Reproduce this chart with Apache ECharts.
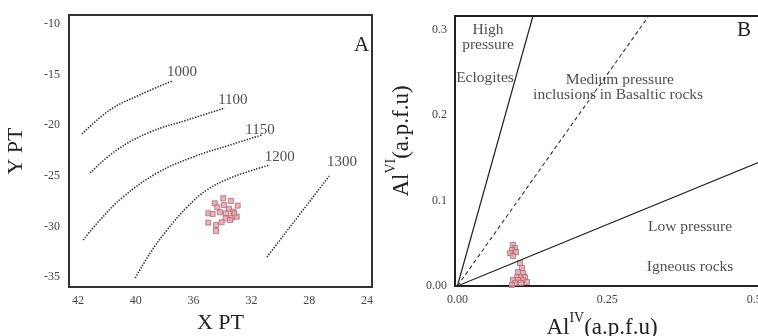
<!DOCTYPE html>
<html>
<head>
<meta charset="utf-8">
<script src="https://cdn.jsdelivr.net/npm/echarts@6/dist/echarts.min.js"></script>
<style>html,body{margin:0;padding:0;background:#fff}#c{width:758px;height:336px}</style>
</head>
<body>
<div id="c"></div>
<script>
// ---------- Panel A data (x in tick-index units: 0..5 -> labels) ----------
var xTickLabelsA = ['42', '40', '36', '32', '28', '24'];
var xTickPosA = [0, 1, 2, 3, 4, 5];
var yTicksA = [-35, -30, -25, -20, -15, -10];
var iso1000 = [[0.07, -20.87], [0.55, -18.5], [1.07, -17.0], [1.63, -15.63]];
var iso1100 = [[0.21, -24.72], [0.67, -22.45], [1.25, -20.67], [1.89, -19.49], [2.54, -18.30]];
var iso1150 = [[0.09, -31.34], [0.38, -29.37], [0.78, -27.09], [1.37, -24.72], [1.99, -23.14], [2.63, -21.96], [3.18, -20.97]];
var iso1200 = [[0.99, -35.10], [1.25, -32.63], [1.54, -30.36], [1.89, -28.08], [2.23, -26.40], [2.68, -25.12], [3.32, -23.93]];
var iso1300 = [[3.27, -33.02], [4.36, -24.92]];
var isoLabels = [[1.80, -14.74, '1000'], [2.68, -17.51, '1100'], [3.15, -20.47, '1150'], [3.49, -23.14, '1200'], [4.57, -23.64, '1300']];
var samplesA = [[2.365, -27.72], [2.514, -27.22], [2.647, -27.49], [2.763, -27.95], [2.410, -28.11], [2.526, -27.89], [2.612, -28.28],
  [2.687, -28.55], [2.746, -29.04], [2.254, -28.71], [2.330, -28.77], [2.457, -28.61], [2.561, -28.71], [2.659, -29.14],
  [2.555, -29.20], [2.486, -29.59], [2.388, -29.86], [2.388, -30.45], [2.254, -29.63], [2.630, -29.37], [2.704, -28.71]];

// ---------- Panel B data ----------
var xTicksB = [0, 0.25, 0.5];
var xTickLabelsB = ['0.00', '0.25', '0.50'];
var yTicksB = [0, 0.1, 0.2, 0.3];
var yTickLabelsB = ['0.00', '0.1', '0.2', '0.3'];
var highLine = [[0, 0], [0.126, 0.316]];
var mediumLine = [[0, 0], [0.319, 0.316]];
var lowLine = [[0, 0], [0.535, 0.154]];
var fieldLabels = [[0.051, 0.2996, 'High'], [0.051, 0.282, 'pressure'], [0.046, 0.243, 'Eclogites'],
  [0.271, 0.241, 'Medium pressure'], [0.268, 0.2235, 'inclusions in Basaltic rocks'],
  [0.388, 0.069, 'Low pressure'], [0.388, 0.022, 'Igneous rocks']];
var samplesB = [[0.0926, 0.048], [0.0960, 0.0445], [0.0910, 0.0421], [0.0977, 0.0398], [0.0877, 0.0386], [0.0926, 0.0351],
  [0.1043, 0.0269], [0.1077, 0.0211], [0.1010, 0.0164], [0.1094, 0.0152], [0.0993, 0.0105], [0.1060, 0.0105], [0.1127, 0.0105],
  [0.0926, 0.0070], [0.1010, 0.0070], [0.1094, 0.0070], [0.1160, 0.0047], [0.0960, 0.0035], [0.1060, 0.0035], [0.0910, 0.0012]];

var FONT = 'Liberation Serif';
var tickStyle = {fontFamily: FONT, fontSize: 12, color: '#444'};
var markerStyle = {color: '#dea2aa', borderColor: '#b86a76', borderWidth: 1};
var dotted = {color: '#333', width: 1.6, type: [1.4, 1.4]};
var nameRich = {
  a: {fontFamily: FONT, fontSize: 23, color: '#222', verticalAlign: 'bottom'},
  s: {fontFamily: FONT, fontSize: 14, color: '#222', verticalAlign: 'top', padding: [0, 0, 15, 0]}
};

function isoSeries(d) {
  return {type: 'line', xAxisIndex: 0, yAxisIndex: 0, data: d, smooth: 0.4, symbol: 'none',
    lineStyle: dotted, silent: true};
}

var chart = echarts.init(document.getElementById('c'), null, {renderer: 'canvas'});
chart.setOption({
  animation: false,
  backgroundColor: '#fff',
  title: [
    {text: 'A', left: 349, top: 30, textStyle: {fontFamily: FONT, fontSize: 21, fontWeight: 'normal', color: '#222'}},
    {text: 'B', left: 732, top: 15, textStyle: {fontFamily: FONT, fontSize: 21, fontWeight: 'normal', color: '#222'}}
  ],
  grid: [
    {left: 69, top: 15, width: 303, height: 272, show: true, borderColor: '#333', borderWidth: 2, backgroundColor: '#fff', outerBoundsMode: 'none'},
    {left: 455, top: 16, width: 322, height: 270, show: true, borderColor: '#222', borderWidth: 2, backgroundColor: '#fff', outerBoundsMode: 'none'}
  ],
  xAxis: [
    {type: 'value', gridIndex: 0, min: -0.156, max: 5.087, splitLine: {show: false}, axisLine: {show: false}, axisTick: {show: false},
      axisLabel: Object.assign({customValues: xTickPosA, margin: 8, formatter: function (v) { return xTickLabelsA[Math.round(v)]; }}, tickStyle),
      name: 'X PT', nameLocation: 'middle', nameGap: 24, nameTextStyle: {fontFamily: FONT, fontSize: 22, color: '#222'}},
    {type: 'value', gridIndex: 1, min: -0.004, max: 0.533, splitLine: {show: false}, axisLine: {show: false}, axisTick: {show: false},
      axisLabel: Object.assign({customValues: xTicksB, margin: 8, formatter: function (v) { return xTickLabelsB[xTicksB.indexOf(v)]; }}, tickStyle),
      name: '{a|Al}{s|IV}{a|(a.p.f.u)}', nameLocation: 'middle', nameGap: 17, nameTextStyle: {rich: nameRich, padding: [0, 28, 0, 0]}}
  ],
  yAxis: [
    {type: 'value', gridIndex: 0, min: -35.99, max: -9.11, splitLine: {show: false}, axisLine: {show: false}, axisTick: {show: false},
      axisLabel: Object.assign({customValues: yTicksA, margin: 9}, tickStyle),
      name: 'Y PT', nameLocation: 'middle', nameGap: 42, nameRotate: 90, nameTextStyle: {fontFamily: FONT, fontSize: 22, color: '#222'}},
    {type: 'value', gridIndex: 1, min: 0, max: 0.316, splitLine: {show: false}, axisLine: {show: false}, axisTick: {show: false},
      axisLabel: Object.assign({customValues: yTicksB, margin: 8, formatter: function (v) { return yTickLabelsB[yTicksB.indexOf(v)]; }}, tickStyle),
      name: '{a|Al}{s|VI}{a|(a.p.f.u)}', nameLocation: 'middle', nameGap: 42, nameRotate: 90, nameTextStyle: {rich: nameRich, padding: [0, 0, 0, 20]}}
  ],
  series: [
    isoSeries(iso1000), isoSeries(iso1100), isoSeries(iso1150), isoSeries(iso1200), isoSeries(iso1300),
    {type: 'scatter', xAxisIndex: 0, yAxisIndex: 0, data: isoLabels, symbolSize: 0, silent: true,
      label: {show: true, position: 'inside', formatter: function (p) { return p.data[2]; }, fontFamily: FONT, fontSize: 15, color: '#222'}},
    {type: 'scatter', xAxisIndex: 0, yAxisIndex: 0, data: samplesA, symbol: 'rect', symbolSize: 5, itemStyle: markerStyle},
    {type: 'line', xAxisIndex: 1, yAxisIndex: 1, data: highLine, symbol: 'none', lineStyle: {color: '#222', width: 1.2}, silent: true},
    {type: 'line', xAxisIndex: 1, yAxisIndex: 1, data: mediumLine, symbol: 'none', lineStyle: {color: '#333', width: 1.1, type: [4, 3]}, silent: true},
    {type: 'line', xAxisIndex: 1, yAxisIndex: 1, data: lowLine, symbol: 'none', lineStyle: {color: '#222', width: 1.2}, silent: true},
    {type: 'scatter', xAxisIndex: 1, yAxisIndex: 1, data: fieldLabels, symbolSize: 0, silent: true,
      label: {show: true, position: 'inside', formatter: function (p) { return p.data[2]; }, fontFamily: FONT, fontSize: 15.5, color: '#222'}},
    {type: 'scatter', xAxisIndex: 1, yAxisIndex: 1, data: samplesB, symbol: 'rect', symbolSize: 5, itemStyle: markerStyle}
  ]
});
</script>
</body>
</html>
